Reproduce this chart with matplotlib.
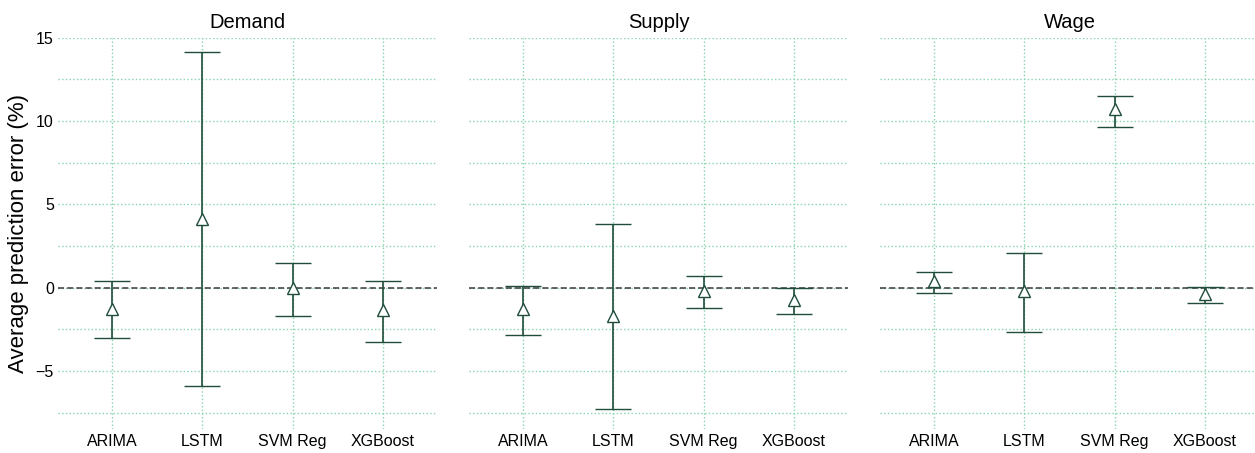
import matplotlib
matplotlib.use("Agg")
import matplotlib.pyplot as plt
from matplotlib.ticker import MultipleLocator

plt.rcParams['font.family'] = ['Liberation Sans', 'DejaVu Sans']

models = ["ARIMA", "LSTM", "SVM Reg", "XGBoost"]
panels = ["Demand", "Supply", "Wage"]

demand_mean = [-1.28, 4.15, -0.04, -1.36]
demand_low = [-3.02, -5.92, -1.70, -3.24]
demand_high = [0.42, 14.15, 1.48, 0.42]

supply_mean = [-1.30, -1.72, -0.20, -0.76]
supply_low = [-2.86, -7.30, -1.22, -1.60]
supply_high = [0.10, 3.83, 0.72, -0.02]

wage_mean = [0.38, -0.22, 10.70, -0.40]
wage_low = [-0.34, -2.64, 9.64, -0.90]
wage_high = [0.94, 2.08, 11.53, 0.04]

data = [
    (demand_mean, demand_low, demand_high),
    (supply_mean, supply_low, supply_high),
    (wage_mean, wage_low, wage_high),
]

W, H = 1255, 453
fig = plt.figure(figsize=(W / 100, H / 100), dpi=100)

lefts = [58, 469, 880]
width = 379
top_px, bot_px = 37.7, 429.4

line_col = "#1f4d3a"
grid_col = "#86d3ad"

for i, (name, (m, lo, hi)) in enumerate(zip(panels, data)):
    ax = fig.add_axes([lefts[i] / W, 1 - bot_px / H, width / W, (bot_px - top_px) / H])
    x = list(range(len(models)))
    yerr = [[mm - l for mm, l in zip(m, lo)], [h - mm for mm, h in zip(m, hi)]]
    ax.axhline(0, color="#3a3a3a", lw=1.1, ls=(0, (4, 2)), zorder=2)
    ax.errorbar(x, m, yerr=yerr, fmt="^", color=line_col, mfc="white", mec=line_col,
                ms=8.5, mew=1.0, elinewidth=1.2, capsize=13, capthick=1.2, zorder=3)
    ax.set_xlim(-0.6, 3.6)
    ax.set_ylim(-8.5, 15)
    ax.set_xticks(x)
    ax.set_xticklabels(models, fontsize=11.5)
    ax.yaxis.set_major_locator(MultipleLocator(5))
    ax.yaxis.set_minor_locator(MultipleLocator(2.5))
    ax.grid(True, which="major", axis="both", color=grid_col, ls=":", lw=1.0)
    ax.grid(True, which="minor", axis="y", color=grid_col, ls=":", lw=1.0)
    ax.tick_params(which="both", length=0)
    ax.tick_params(axis="x", pad=3)
    ax.tick_params(axis="y", labelsize=11.5, pad=3)
    for s in ax.spines.values():
        s.set_visible(False)
    ax.set_title(name, fontsize=14.5, pad=7)
    if i == 0:
        ax.set_ylabel("Average prediction error (%)", fontsize=16, labelpad=5)
    else:
        ax.tick_params(axis="y", which="both", labelleft=False)

fig.savefig("out.png", dpi=100)
